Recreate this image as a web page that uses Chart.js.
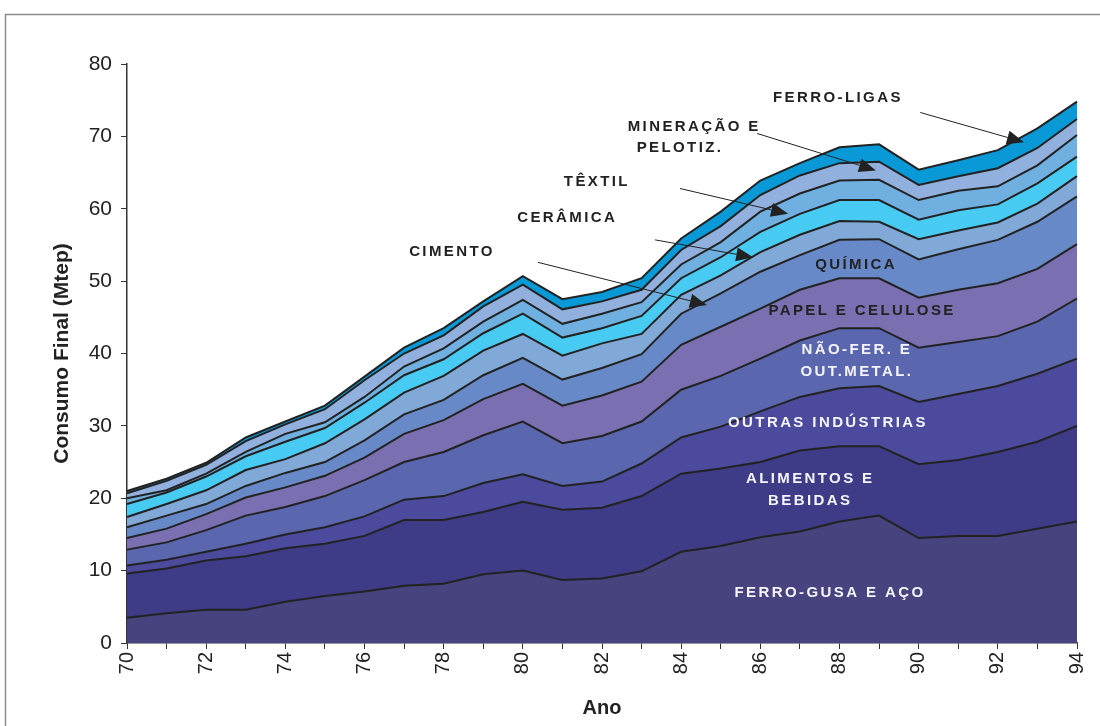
<!DOCTYPE html>
<html>
<head>
<meta charset="utf-8">
<script src="https://cdn.jsdelivr.net/npm/chart.js@4.4.1/dist/chart.umd.min.js"></script>
<style>
  body { margin: 0; background: #fff; }
  #wrap { width: 1100px; height: 726px; }
</style>
</head>
<body>
<div id="wrap"><canvas id="chart"></canvas></div>
<script>
// Years on the x axis
const years = ["70","71","72","73","74","75","76","77","78","79","80","81","82","83","84","85","86","87","88","89","90","91","92","93","94"];

// Consumption per sector (Mtep), stacked from the bottom up
const ferroGusa  = [3.5,4.1,4.6,4.6,5.7,6.5,7.1,7.9,8.2,9.5,10.0,8.7,8.9,9.9,12.6,13.4,14.6,15.4,16.8,17.6,14.5,14.8,14.8,15.8,16.8];
const alimentos  = [6.1,6.2,6.8,7.4,7.4,7.2,7.7,9.1,8.8,8.6,9.5,9.7,9.8,10.4,10.8,10.7,10.4,11.2,10.4,9.6,10.2,10.5,11.6,12.0,13.2];
const outras     = [1.1,1.2,1.2,1.7,1.9,2.3,2.7,2.8,3.3,4.0,3.8,3.3,3.6,4.5,5.0,5.8,7.0,7.4,8.0,8.3,8.6,9.1,9.1,9.4,9.3];
const naoFerrosos = [2.2,2.4,3.0,3.9,3.8,4.3,5.0,5.2,6.1,6.6,7.3,5.9,6.3,5.8,6.6,7.0,7.3,7.8,8.3,8.0,7.5,7.2,6.9,7.2,8.3];
const papel      = [1.6,1.9,2.2,2.5,2.7,2.8,3.1,3.9,4.4,5.0,5.2,5.2,5.6,5.5,6.2,6.8,6.9,7.0,6.9,6.9,6.9,7.2,7.3,7.3,7.5];
const quimica    = [1.5,1.8,1.4,1.6,2.0,1.9,2.4,2.7,2.8,3.3,3.6,3.6,3.8,3.8,4.3,4.6,5.1,4.8,5.3,5.4,5.3,5.6,6.0,6.5,6.6];
const cimento    = [1.4,1.6,1.9,2.2,1.9,2.6,2.9,3.0,3.3,3.4,3.3,3.3,3.4,2.8,2.6,2.5,2.7,2.8,2.6,2.4,2.8,2.6,2.4,2.5,2.8];
const ceramica   = [1.8,1.6,1.9,1.9,2.4,2.1,2.3,2.4,2.3,2.4,2.8,2.5,2.1,2.5,2.3,2.5,2.8,2.9,2.9,3.0,2.7,2.8,2.5,2.8,2.7];
const textil     = [0.8,0.3,0.4,0.6,1.1,0.8,0.8,1.2,1.5,1.6,1.9,1.9,2.0,1.9,1.9,2.1,2.8,2.8,2.7,2.8,2.7,2.7,2.5,2.5,3.0];
const mineracao  = [0.7,1.3,1.2,1.5,1.3,1.8,2.3,1.8,1.8,2.1,2.1,2.0,1.7,1.7,2.0,2.2,2.3,2.5,2.4,2.5,2.1,2.0,2.5,2.4,2.2];
const ferroLigas = [0.3,0.3,0.3,0.5,0.4,0.5,0.5,0.8,1.0,0.7,1.2,1.4,1.3,1.6,1.6,2.0,2.0,1.7,2.2,2.4,2.1,2.2,2.5,2.7,2.4];

const sectorNames = ["Ferro-gusa e aço", "Alimentos e bebidas", "Outras indústrias", "Não-fer. e out.metal.",
  "Papel e celulose", "Química", "Cimento", "Cerâmica", "Têxtil", "Mineração e pelotiz.", "Ferro-ligas"];
const sectorValues = [ferroGusa, alimentos, outras, naoFerrosos, papel, quimica, cimento, ceramica, textil, mineracao, ferroLigas];
const sectorColors = ["#47437f", "#3e3b87", "#4b4a9c", "#5a66ad", "#7a6fb0", "#6889c8", "#80a9d7",
  "#48cbf3", "#70b0e0", "#92b0dd", "#0a99d7"];

// Sector labels (year, Mtep) and the arrows that point into the thin bands
const labelText = ["FERRO-LIGAS", "MINERAÇÃO E", "PELOTIZ.", "TÊXTIL", "CERÂMICA", "CIMENTO", "QUÍMICA",
  "PAPEL E CELULOSE", "NÃO-FER. E", "OUT.METAL.", "OUTRAS INDÚSTRIAS", "ALIMENTOS E", "BEBIDAS", "FERRO-GUSA E AÇO"];
const labelYear = [87.96, 84.33, 83.97, 81.87, 81.12, 78.21, 88.42, 88.57, 88.44, 88.44, 87.71, 87.26, 87.26, 87.76];
const labelValue = [75.3, 71.3, 68.4, 63.7, 58.7, 54.0, 52.2, 45.9, 40.5, 37.4, 30.4, 22.7, 19.6, 6.9];
const labelWhite = [false, false, false, false, false, false, false, false, true, true, true, true, true, true];

const arrowFrom = [[90.04, 73.3], [85.92, 70.4], [83.97, 62.8], [83.34, 55.7], [80.38, 52.6]];
const arrowTo   = [[92.66, 69.2], [88.92, 65.3], [86.70, 59.3], [85.82, 53.3], [84.65, 46.7]];

const datasets = sectorValues.map((vals, i) => ({
    label: sectorNames[i],
    data: vals,
    backgroundColor: sectorColors[i],
    borderColor: "#222",
    borderWidth: 2,
    fill: i === 0 ? "origin" : "-1",
    pointRadius: 0,
    tension: 0
}));

// Light frame around the whole figure
const framePlugin = {
    id: "frame",
    beforeDraw(chart) {
        const ctx = chart.ctx;
        ctx.save();
        ctx.strokeStyle = "#8c8c8c";
        ctx.lineWidth = 1.5;
        ctx.strokeRect(5.5, 14.5, 1200, 800);
        ctx.restore();
    }
};

// Sector names and arrows
const labelsPlugin = {
    id: "sectorLabels",
    afterDatasetsDraw(chart) {
        const ctx = chart.ctx;
        const xs = chart.scales.x, ys = chart.scales.y;
        const px = yr => xs.getPixelForValue(yr - 70);
        ctx.save();
        ctx.font = "bold 15px Arial, 'Liberation Sans', sans-serif";
        ctx.letterSpacing = "2.4px";
        ctx.textAlign = "center";
        ctx.textBaseline = "middle";
        labelText.forEach((t, i) => {
            ctx.fillStyle = labelWhite[i] ? "#f4f4fa" : "#222";
            ctx.fillText(t, px(labelYear[i]), ys.getPixelForValue(labelValue[i]));
        });

        ctx.strokeStyle = "#222";
        ctx.fillStyle = "#222";
        ctx.lineWidth = 1;
        arrowFrom.forEach((a, i) => {
            const x1 = px(a[0]), y1 = ys.getPixelForValue(a[1]);
            const x2 = px(arrowTo[i][0]), y2 = ys.getPixelForValue(arrowTo[i][1]);
            const ang = Math.atan2(y2 - y1, x2 - x1);
            const len = 17, half = 7;
            ctx.beginPath();
            ctx.moveTo(x1, y1);
            ctx.lineTo(x2 - len * Math.cos(ang), y2 - len * Math.sin(ang));
            ctx.stroke();
            ctx.beginPath();
            ctx.moveTo(x2, y2);
            ctx.lineTo(x2 - len * Math.cos(ang) - half * Math.sin(ang), y2 - len * Math.sin(ang) + half * Math.cos(ang));
            ctx.lineTo(x2 - len * Math.cos(ang) + half * Math.sin(ang), y2 - len * Math.sin(ang) - half * Math.cos(ang));
            ctx.closePath();
            ctx.fill();
        });
        ctx.restore();
    }
};

new Chart(document.getElementById("chart"), {
    type: "line",
    data: { labels: years, datasets: datasets },
    options: {
        responsive: true,
        maintainAspectRatio: false,
        animation: false,
        layout: { padding: { left: 40, top: 64, right: 23, bottom: 0 } },
        plugins: {
            legend: { display: false },
            tooltip: { enabled: false }
        },
        scales: {
            x: {
                offset: false,
                grid: { drawOnChartArea: false, drawTicks: true, tickLength: 6, color: "#333", offset: false },
                border: { display: true, color: "#333", width: 1.5 },
                ticks: {
                    autoSkip: false,
                    minRotation: 90,
                    maxRotation: 90,
                    padding: 3,
                    color: "#222",
                    font: { family: "Arial, 'Liberation Sans', sans-serif", size: 20 },
                    callback: (v, i) => (i % 2 === 0 ? years[i] : "")
                },
                title: {
                    display: true,
                    text: "Ano",
                    color: "#222",
                    padding: { top: 0, bottom: 6 },
                    font: { family: "Arial, 'Liberation Sans', sans-serif", size: 20, weight: "bold" }
                },
                afterFit: s => { s.height = 83; s.paddingRight = 0; s.paddingLeft = 0; }
            },
            y: {
                stacked: true,
                min: 0,
                max: 80,
                grid: { drawOnChartArea: false, drawTicks: true, tickLength: 6, color: "#333" },
                border: { display: true, color: "#333", width: 1.5 },
                ticks: {
                    stepSize: 10,
                    padding: 9,
                    color: "#222",
                    font: { family: "Arial, 'Liberation Sans', sans-serif", size: 21 }
                },
                title: {
                    display: true,
                    text: "Consumo Final (Mtep)",
                    color: "#222",
                    padding: { top: 10, bottom: 0 },
                    font: { family: "Arial, 'Liberation Sans', sans-serif", size: 21, weight: "bold" }
                },
                afterFit: s => { s.width = 87; }
            }
        }
    },
    plugins: [framePlugin, labelsPlugin]
});
</script>
</body>
</html>
